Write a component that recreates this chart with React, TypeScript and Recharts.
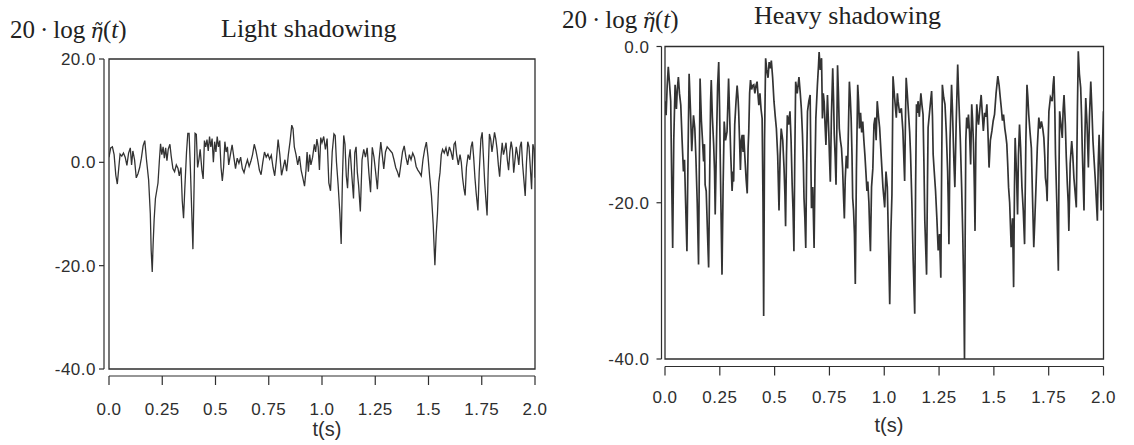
import React from 'react';
import { LineChart, Line, XAxis, YAxis, ReferenceArea } from 'recharts';

// ---------- axis ticks ----------
const X_TICKS = [0, 0.25, 0.5, 0.75, 1, 1.25, 1.5, 1.75, 2];
const X_TICK_LABELS = ['0.0', '0.25', '0.5', '0.75', '1.0', '1.25', '1.5', '1.75', '2.0'];
const LIGHT_Y_TICKS = [20, 0, -20, -40];
const LIGHT_Y_LABELS = ['20.0', '0.0', '-20.0', '-40.0'];
const HEAVY_Y_TICKS = [0, -20, -40];
const HEAVY_Y_LABELS = ['0.0', '-20.0', '-40.0'];

// ---------- Light shadowing (time s, level dB) ----------
const LIGHT_T = [
  0.000, 0.008, 0.016, 0.024, 0.032, 0.039, 0.046, 0.052, 0.060, 0.068, 0.076, 0.084, 0.092, 0.100, 0.106, 0.112,
  0.120, 0.128, 0.136, 0.144, 0.152, 0.160, 0.168, 0.176, 0.186, 0.194, 0.198, 0.203, 0.207, 0.212, 0.218, 0.224,
  0.230, 0.236, 0.242, 0.248, 0.254, 0.260, 0.266, 0.272, 0.278, 0.286, 0.292, 0.300, 0.308, 0.316, 0.324, 0.330,
  0.338, 0.344, 0.350, 0.356, 0.364, 0.370, 0.376, 0.382, 0.388, 0.394, 0.398, 0.404, 0.410, 0.416, 0.422, 0.428,
  0.436, 0.442, 0.448, 0.454, 0.460, 0.466, 0.472, 0.478, 0.484, 0.490, 0.496, 0.502, 0.508, 0.514, 0.520, 0.526,
  0.532, 0.538, 0.544, 0.550, 0.556, 0.562, 0.570, 0.578, 0.586, 0.594, 0.602, 0.610, 0.618, 0.626, 0.634, 0.642,
  0.650, 0.658, 0.666, 0.674, 0.682, 0.690, 0.698, 0.706, 0.714, 0.722, 0.730, 0.738, 0.746, 0.754, 0.762, 0.770,
  0.778, 0.786, 0.794, 0.802, 0.810, 0.818, 0.826, 0.834, 0.842, 0.850, 0.858, 0.864, 0.870, 0.878, 0.886, 0.894,
  0.902, 0.910, 0.918, 0.924, 0.930, 0.936, 0.942, 0.948, 0.956, 0.964, 0.970, 0.976, 0.982, 0.988, 0.994, 1.000,
  1.008, 1.016, 1.024, 1.032, 1.040, 1.048, 1.056, 1.062, 1.068, 1.076, 1.084, 1.090, 1.096, 1.102, 1.108, 1.114,
  1.120, 1.126, 1.132, 1.140, 1.148, 1.154, 1.160, 1.166, 1.172, 1.180, 1.188, 1.196, 1.204, 1.212, 1.220, 1.228,
  1.236, 1.244, 1.252, 1.260, 1.268, 1.276, 1.284, 1.290, 1.298, 1.306, 1.314, 1.322, 1.330, 1.338, 1.346, 1.354,
  1.362, 1.370, 1.378, 1.386, 1.394, 1.402, 1.410, 1.418, 1.426, 1.434, 1.442, 1.450, 1.458, 1.466, 1.474, 1.482,
  1.490, 1.498, 1.506, 1.514, 1.522, 1.530, 1.536, 1.542, 1.548, 1.554, 1.560, 1.566, 1.574, 1.582, 1.590, 1.598,
  1.606, 1.614, 1.620, 1.626, 1.632, 1.640, 1.648, 1.654, 1.660, 1.666, 1.672, 1.678, 1.686, 1.694, 1.700, 1.706,
  1.712, 1.718, 1.724, 1.732, 1.738, 1.746, 1.752, 1.758, 1.764, 1.770, 1.775, 1.780, 1.786, 1.792, 1.798, 1.804,
  1.810, 1.816, 1.822, 1.828, 1.834, 1.840, 1.846, 1.852, 1.858, 1.864, 1.870, 1.876, 1.882, 1.888, 1.894, 1.900,
  1.906, 1.912, 1.918, 1.924, 1.930, 1.936, 1.942, 1.948, 1.954, 1.960, 1.966, 1.972, 1.978, 1.984, 1.990, 1.996,
  2.000,
];
const LIGHT_V = [
  1.0, 2.8, 3.0, 1.5, -2.5, -4.2, -1.0, 1.6, 1.2, 1.8, 1.0, -0.6, 1.8, 2.8, -0.5, 2.2,
  0.5, -3.0, -2.2, -1.0, 0.8, 3.2, 4.2, 0.5, -3.4, -10.0, -17.0, -21.2, -16.0, -11.0, -7.0, -5.5,
  -4.0, 0.0, 3.6, 1.5, 3.0, 0.8, 2.8, 0.3, 2.5, 3.5, 1.2, -1.2, -1.8, -0.5, -1.2, -2.6,
  -1.0, -7.5, -10.8, -5.0, 2.0, 5.6, 5.6, -1.0, -9.0, -16.8, -8.0, 5.6, 5.4, -1.0, 0.5, 2.5,
  -1.5, -3.2, 4.2, 3.0, 4.4, 2.2, 5.0, 3.0, 4.6, 0.0, 4.0, 2.0, 5.0, 3.0, 4.2, -1.0,
  -3.6, -1.0, 4.0, 2.0, 3.0, -0.5, 1.5, 3.4, 1.0, -1.2, 0.8, -0.2, 1.0, -1.2, -2.0, -0.6,
  0.5, -0.8, 0.2, 1.5, 3.5, 2.2, 0.5, -1.5, -2.4, 0.0, 2.0, 1.0, 1.6, 0.6, 1.4, -1.0,
  -2.6, 0.5, 4.4, 1.5, -2.5, -1.0, 0.5, -1.7, 1.5, 4.0, 7.2, 6.5, 3.0, 1.5, -0.5, 1.2,
  -1.5, -3.0, -4.6, -2.0, 2.0, -1.8, 1.5, -0.5, 1.0, 3.5, 2.0, 4.5, 3.0, -1.5, 4.8, 3.8,
  5.0, 2.5, 4.6, -4.0, -5.5, 2.0, 5.5, 5.2, 0.0, -4.5, -10.0, -15.8, -3.0, 5.2, 3.5, -2.6,
  -5.0, 0.6, 2.5, -2.5, -7.0, 1.9, 3.0, -2.0, -4.5, -9.5, 0.5, 2.5, 1.0, 2.8, -2.0, -5.8,
  2.9, 1.0, -2.0, -5.2, 0.5, 3.9, 1.0, -1.3, 2.0, 3.0, 2.6, 2.2, 1.8, 0.5, -1.0, -1.8,
  -2.9, -0.5, 2.0, 3.2, 1.0, -0.5, 1.5, 0.5, 1.8, 1.0, -0.8, -1.5, -2.0, -2.6, 0.5, 2.5,
  3.9, 1.0, -3.0, -6.5, -12.0, -19.9, -14.0, -10.0, -4.0, -2.0, 1.5, 2.5, 1.8, 2.8, 1.2, 3.0,
  2.0, 0.5, 3.5, 3.9, 1.5, -0.5, 1.5, 0.0, -3.0, -5.0, -6.4, -1.0, 1.5, 0.5, 3.0, 4.0,
  1.0, -3.0, -6.0, -9.3, -2.0, 4.5, 5.8, 1.0, -4.0, -7.5, -10.3, -2.0, 5.5, 4.5, 2.0, 3.8,
  5.8, 4.5, 2.5, -0.5, -2.8, 1.0, 3.8, 1.5, 2.5, 3.8, 0.5, -1.5, 2.0, 4.0, 2.5, -2.0,
  0.5, 3.0, 1.5, -0.5, 3.0, 4.0, -0.5, -3.5, -6.5, 0.0, 4.0, 3.0, -1.0, -5.2, 3.5, 2.5,
  -3.0,
];

// ---------- Heavy shadowing (time s, level dB) ----------
const HEAVY_T = [
  0.000, 0.005, 0.010, 0.015, 0.020, 0.026, 0.031, 0.035, 0.040, 0.046, 0.052, 0.056, 0.061, 0.066, 0.072, 0.078,
  0.084, 0.089, 0.094, 0.100, 0.105, 0.110, 0.116, 0.122, 0.126, 0.130, 0.136, 0.141, 0.147, 0.153, 0.157, 0.160,
  0.166, 0.171, 0.176, 0.180, 0.183, 0.188, 0.194, 0.199, 0.204, 0.208, 0.211, 0.216, 0.222, 0.226, 0.229, 0.235,
  0.240, 0.245, 0.249, 0.252, 0.256, 0.260, 0.265, 0.270, 0.276, 0.283, 0.287, 0.290, 0.295, 0.300, 0.306, 0.310,
  0.313, 0.318, 0.324, 0.329, 0.333, 0.336, 0.340, 0.344, 0.348, 0.352, 0.356, 0.359, 0.364, 0.370, 0.375, 0.379,
  0.382, 0.386, 0.390, 0.395, 0.400, 0.405, 0.410, 0.415, 0.420, 0.425, 0.428, 0.433, 0.438, 0.443, 0.447, 0.450,
  0.454, 0.459, 0.464, 0.470, 0.475, 0.480, 0.485, 0.491, 0.497, 0.503, 0.508, 0.514, 0.520, 0.525, 0.530, 0.537,
  0.543, 0.547, 0.550, 0.554, 0.558, 0.564, 0.570, 0.575, 0.580, 0.584, 0.588, 0.592, 0.596, 0.603, 0.611, 0.617,
  0.622, 0.627, 0.631, 0.634, 0.638, 0.642, 0.646, 0.650, 0.656, 0.662, 0.665, 0.668, 0.674, 0.680, 0.684, 0.688,
  0.695, 0.700, 0.703, 0.708, 0.714, 0.718, 0.722, 0.726, 0.730, 0.734, 0.738, 0.741, 0.747, 0.750, 0.754, 0.759,
  0.765, 0.769, 0.772, 0.776, 0.780, 0.784, 0.787, 0.791, 0.795, 0.800, 0.805, 0.810, 0.814, 0.818, 0.822, 0.827,
  0.833, 0.837, 0.841, 0.845, 0.849, 0.853, 0.856, 0.860, 0.864, 0.868, 0.873, 0.879, 0.883, 0.887, 0.892, 0.897,
  0.902, 0.907, 0.912, 0.917, 0.921, 0.925, 0.930, 0.934, 0.937, 0.942, 0.948, 0.953, 0.958, 0.963, 0.968, 0.974,
  0.979, 0.986, 0.994, 1.002, 1.008, 1.014, 1.020, 1.025, 1.030, 1.035, 1.040, 1.047, 1.055, 1.060, 1.063, 1.070,
  1.078, 1.085, 1.089, 1.093, 1.097, 1.100, 1.105, 1.111, 1.116, 1.120, 1.126, 1.132, 1.139, 1.143, 1.147, 1.151,
  1.154, 1.160, 1.167, 1.172, 1.177, 1.181, 1.185, 1.193, 1.197, 1.200, 1.208, 1.216, 1.220, 1.223, 1.228, 1.234,
  1.240, 1.246, 1.252, 1.258, 1.262, 1.265, 1.271, 1.277, 1.283, 1.289, 1.292, 1.295, 1.300, 1.307, 1.311, 1.315,
  1.318, 1.322, 1.328, 1.335, 1.338, 1.341, 1.347, 1.353, 1.358, 1.363, 1.366, 1.369, 1.372, 1.376, 1.380, 1.384,
  1.389, 1.394, 1.399, 1.403, 1.407, 1.411, 1.414, 1.418, 1.422, 1.426, 1.430, 1.436, 1.442, 1.447, 1.452, 1.458,
  1.463, 1.468, 1.473, 1.478, 1.484, 1.491, 1.497, 1.503, 1.510, 1.518, 1.524, 1.529, 1.534, 1.539, 1.544, 1.550,
  1.555, 1.559, 1.563, 1.567, 1.572, 1.579, 1.585, 1.590, 1.594, 1.597, 1.603, 1.608, 1.612, 1.617, 1.622, 1.628,
  1.634, 1.640, 1.646, 1.651, 1.655, 1.659, 1.665, 1.671, 1.676, 1.682, 1.687, 1.692, 1.698, 1.705, 1.711, 1.717,
  1.723, 1.728, 1.732, 1.735, 1.740, 1.743, 1.747, 1.751, 1.758, 1.766, 1.770, 1.774, 1.778, 1.781, 1.787, 1.794,
  1.797, 1.800, 1.806, 1.812, 1.816, 1.820, 1.826, 1.830, 1.835, 1.839, 1.842, 1.848, 1.855, 1.860, 1.865, 1.870,
  1.876, 1.881, 1.885, 1.890, 1.896, 1.900, 1.903, 1.907, 1.911, 1.915, 1.919, 1.925, 1.931, 1.936, 1.942, 1.947,
  1.952, 1.957, 1.962, 1.967, 1.972, 1.976, 1.980, 1.985, 1.989, 1.994, 2.000,
];
const HEAVY_V = [
  -7.0, -8.8, -5.0, -2.6, -4.5, -7.0, -18.0, -25.8, -12.0, -4.9, -8.0, -5.5, -3.9, -6.0, -7.5, -12.0,
  -16.0, -14.5, -20.0, -26.2, -14.0, -3.5, -8.0, -13.4, -11.0, -8.8, -10.5, -14.3, -20.0, -27.9, -14.0, -4.1,
  -9.5, -12.0, -14.7, -12.5, -17.7, -18.5, -24.0, -28.3, -16.0, -7.0, -4.3, -9.0, -12.6, -16.0, -21.5, -12.0,
  -5.0, -2.0, -8.0, -14.3, -22.0, -29.2, -18.0, -9.6, -12.0, -10.9, -7.0, -4.1, -9.0, -14.0, -18.5, -16.0,
  -17.3, -10.0, -7.0, -5.0, -6.5, -8.3, -12.0, -15.8, -12.0, -11.3, -13.5, -11.3, -14.0, -17.0, -18.8, -13.0,
  -10.9, -6.0, -4.3, -5.5, -5.0, -4.9, -6.0, -5.0, -4.5, -6.5, -7.5, -6.0, -8.0, -9.2, -20.0, -34.5,
  -12.0, -1.5, -3.0, -4.0, -2.0, -2.8, -1.8, -4.0, -7.0, -9.0, -10.5, -14.0, -21.0, -14.0, -10.5, -12.0,
  -15.6, -19.0, -23.0, -14.0, -8.8, -10.0, -8.3, -12.0, -17.7, -21.0, -26.2, -14.0, -4.5, -6.0, -3.9, -6.0,
  -8.0, -11.3, -15.0, -19.4, -22.0, -25.8, -15.0, -8.3, -7.0, -6.2, -14.0, -20.7, -18.0, -25.8, -16.0, -9.2,
  -5.0, -2.5, -0.7, -3.0, -1.5, -9.2, -6.0, -7.1, -10.0, -12.6, -9.0, -6.2, -11.0, -14.0, -17.3, -9.0,
  -2.8, -7.0, -11.3, -14.0, -17.7, -10.0, -2.4, -6.0, -10.5, -12.0, -13.0, -15.6, -19.0, -22.0, -17.0, -14.0,
  -15.6, -10.0, -4.5, -6.5, -9.2, -14.0, -19.4, -21.0, -24.0, -30.4, -16.0, -4.9, -7.0, -10.5, -8.5, -11.0,
  -9.6, -12.0, -14.0, -16.4, -18.5, -17.3, -20.0, -24.0, -26.2, -18.0, -15.6, -10.0, -9.1, -12.0, -7.0, -9.0,
  -10.4, -14.0, -18.0, -20.6, -16.0, -18.0, -26.0, -33.0, -24.0, -19.0, -3.8, -6.5, -9.1, -6.0, -7.0, -8.5,
  -7.9, -10.8, -14.0, -17.2, -9.0, -4.0, -6.0, -8.7, -11.0, -13.8, -20.0, -27.4, -34.2, -18.0, -7.4, -8.5,
  -7.0, -9.0, -6.0, -7.5, -8.7, -15.0, -22.3, -29.2, -18.0, -10.4, -8.0, -5.7, -9.0, -13.8, -16.0, -18.5,
  -22.0, -26.1, -24.0, -29.6, -15.0, -4.9, -6.5, -7.4, -11.0, -15.9, -20.0, -25.3, -12.0, -4.9, -8.0, -12.1,
  -15.0, -18.0, -10.0, -2.3, -5.0, -7.4, -12.0, -18.0, -24.0, -31.7, -40.0, -25.0, -12.0, -9.1, -10.5, -8.7,
  -11.0, -15.1, -7.4, -9.5, -12.5, -18.0, -23.6, -12.0, -7.4, -9.0, -10.0, -8.0, -6.2, -8.5, -10.8, -8.5,
  -9.0, -7.4, -11.0, -15.5, -12.0, -10.8, -9.5, -8.7, -6.0, -3.8, -5.0, -6.5, -7.9, -9.5, -8.7, -10.5,
  -11.5, -12.5, -15.0, -18.0, -20.0, -25.7, -22.0, -30.8, -18.0, -11.7, -16.0, -21.5, -14.0, -10.0, -13.0, -18.0,
  -21.0, -25.3, -12.0, -4.9, -6.5, -8.7, -11.0, -13.0, -19.0, -25.7, -22.0, -18.0, -13.0, -9.1, -10.5, -9.6,
  -10.5, -11.7, -14.0, -16.8, -18.0, -19.8, -13.0, -8.3, -6.5, -7.0, -5.0, -3.8, -8.0, -13.8, -20.0, -28.7,
  -16.0, -8.3, -10.0, -11.7, -8.0, -6.2, -10.0, -14.0, -17.6, -20.0, -23.6, -15.0, -12.1, -14.0, -16.8, -18.5,
  -20.6, -8.0, -0.6, -3.5, -5.3, -9.0, -13.0, -17.0, -21.0, -12.0, -6.6, -10.0, -15.5, -9.0, -4.5, -8.0,
  -12.1, -14.5, -16.8, -19.5, -22.3, -15.0, -11.3, -16.0, -21.0, -14.0, -8.3,
];

const lightData = LIGHT_T.map((t, i) => ({ t, v: LIGHT_V[i] }));
const heavyData = HEAVY_T.map((t, i) => ({ t, v: HEAVY_V[i] }));

const INK = '#2e2e2e';
const tickFont = {
  fontFamily: '"Liberation Sans", Arial, sans-serif',
  fontSize: 17,
  fill: INK,
  letterSpacing: 0.5,
};

type PanelProps = {
  left: number;
  width: number;
  data: { t: number; v: number }[];
  yDomain: [number, number];
  yTicks: number[];
  yLabels: string[];
  margin: { top: number; right: number; bottom: number; left: number };
  yGap: number;
  xGap: number;
  yTickMargin: number;
  xTickMargin: number;
  lineWidth: number;
};

function Panel(p: PanelProps) {
  return (
    <div style={{ position: 'absolute', left: p.left, top: 0 }}>
      <LineChart width={p.width} height={445} data={p.data} margin={p.margin}>
        {/* spacer axes: keep the drawn axes detached from the plot frame */}
        <XAxis xAxisId="gap" type="number" dataKey="t" domain={[0, 2]} height={p.xGap} tick={false} tickLine={false} axisLine={false} />
        <YAxis yAxisId="gap" type="number" domain={p.yDomain} width={p.yGap} tick={false} tickLine={false} axisLine={false} />
        <XAxis
          xAxisId="main"
          dataKey="t"
          type="number"
          domain={[0, 2]}
          ticks={X_TICKS}
          tickFormatter={(v: number) => X_TICK_LABELS[X_TICKS.indexOf(v)]}
          height={40}
          tickSize={9}
          tickMargin={p.xTickMargin}
          axisLine={{ stroke: INK, strokeWidth: 1.2 }}
          tickLine={{ stroke: INK, strokeWidth: 1.2 }}
          tick={tickFont}
          interval={0}
          allowDataOverflow
        />
        <YAxis
          yAxisId="main"
          type="number"
          domain={p.yDomain}
          ticks={p.yTicks}
          tickFormatter={(v: number) => p.yLabels[p.yTicks.indexOf(v)]}
          width={100 - p.yGap}
          tickSize={5}
          tickMargin={p.yTickMargin}
          axisLine={{ stroke: INK, strokeWidth: 1.2 }}
          tickLine={{ stroke: INK, strokeWidth: 1.2 }}
          tick={tickFont}
          interval={0}
          allowDataOverflow
        />
        <ReferenceArea
          xAxisId="main"
          yAxisId="main"
          x1={0}
          x2={2}
          y1={p.yDomain[0]}
          y2={p.yDomain[1]}
          fill="none"
          fillOpacity={0}
          stroke={INK}
          strokeWidth={1.3}
          ifOverflow="visible"
        />
        <Line
          xAxisId="main"
          yAxisId="main"
          type="linear"
          dataKey="v"
          stroke="#333"
          strokeWidth={p.lineWidth}
          dot={false}
          activeDot={false}
          isAnimationActive={false}
        />
      </LineChart>
    </div>
  );
}

const serif = '"Liberation Serif", "Times New Roman", serif';
const sans = '"Liberation Sans", Arial, sans-serif';

function YLabel({ x, y }: { x: number; y: number }) {
  return (
    <text x={x} y={y} fontFamily={serif} fontSize={25} fill="#222">
      20{'\u2009'}·{'\u2009'}log{'\u2009'}
      <tspan fontFamily='"DejaVu Serif", serif' fontStyle="italic" fontSize={21}>{'\u03B7\u0303'}</tspan>
      <tspan>(</tspan>
      <tspan fontStyle="italic">t</tspan>)
    </text>
  );
}

export default function App() {
  return (
    <div style={{ position: 'absolute', left: 0, top: 0, width: 1134, height: 445, background: '#fff', overflow: 'hidden' }}>
      <Panel
        left={0}
        width={560}
        data={lightData}
        yDomain={[-40, 20]}
        yTicks={LIGHT_Y_TICKS}
        yLabels={LIGHT_Y_LABELS}
        margin={{ top: 59, right: 25, bottom: 29, left: 9 }}
        yGap={5}
        xGap={7}
        yTickMargin={3}
        xTickMargin={18}
        lineWidth={1.3}
      />
      <Panel
        left={560}
        width={574}
        data={heavyData}
        yDomain={[-40, 0]}
        yTicks={HEAVY_Y_TICKS}
        yLabels={HEAVY_Y_LABELS}
        margin={{ top: 46.5, right: 30.5, bottom: 38.5, left: 5 }}
        yGap={3.5}
        xGap={7.5}
        yTickMargin={7}
        xTickMargin={15.5}
        lineWidth={1.7}
      />
      <svg width={1134} height={445} style={{ position: 'absolute', left: 0, top: 0, pointerEvents: 'none' }}>
        <YLabel x={10} y={38} />
        <text x={221} y={37} fontFamily={serif} fontSize={26} fill="#222">Light shadowing</text>
        <YLabel x={562} y={28} />
        <text x={754} y={24} fontFamily={serif} fontSize={26} fill="#222">Heavy shadowing</text>
        <text x={327} y={436} fontFamily={sans} fontSize={20} fill={INK} textAnchor="middle">t(s)</text>
        <text x={889} y={432} fontFamily={sans} fontSize={20} fill={INK} textAnchor="middle">t(s)</text>
      </svg>
    </div>
  );
}
